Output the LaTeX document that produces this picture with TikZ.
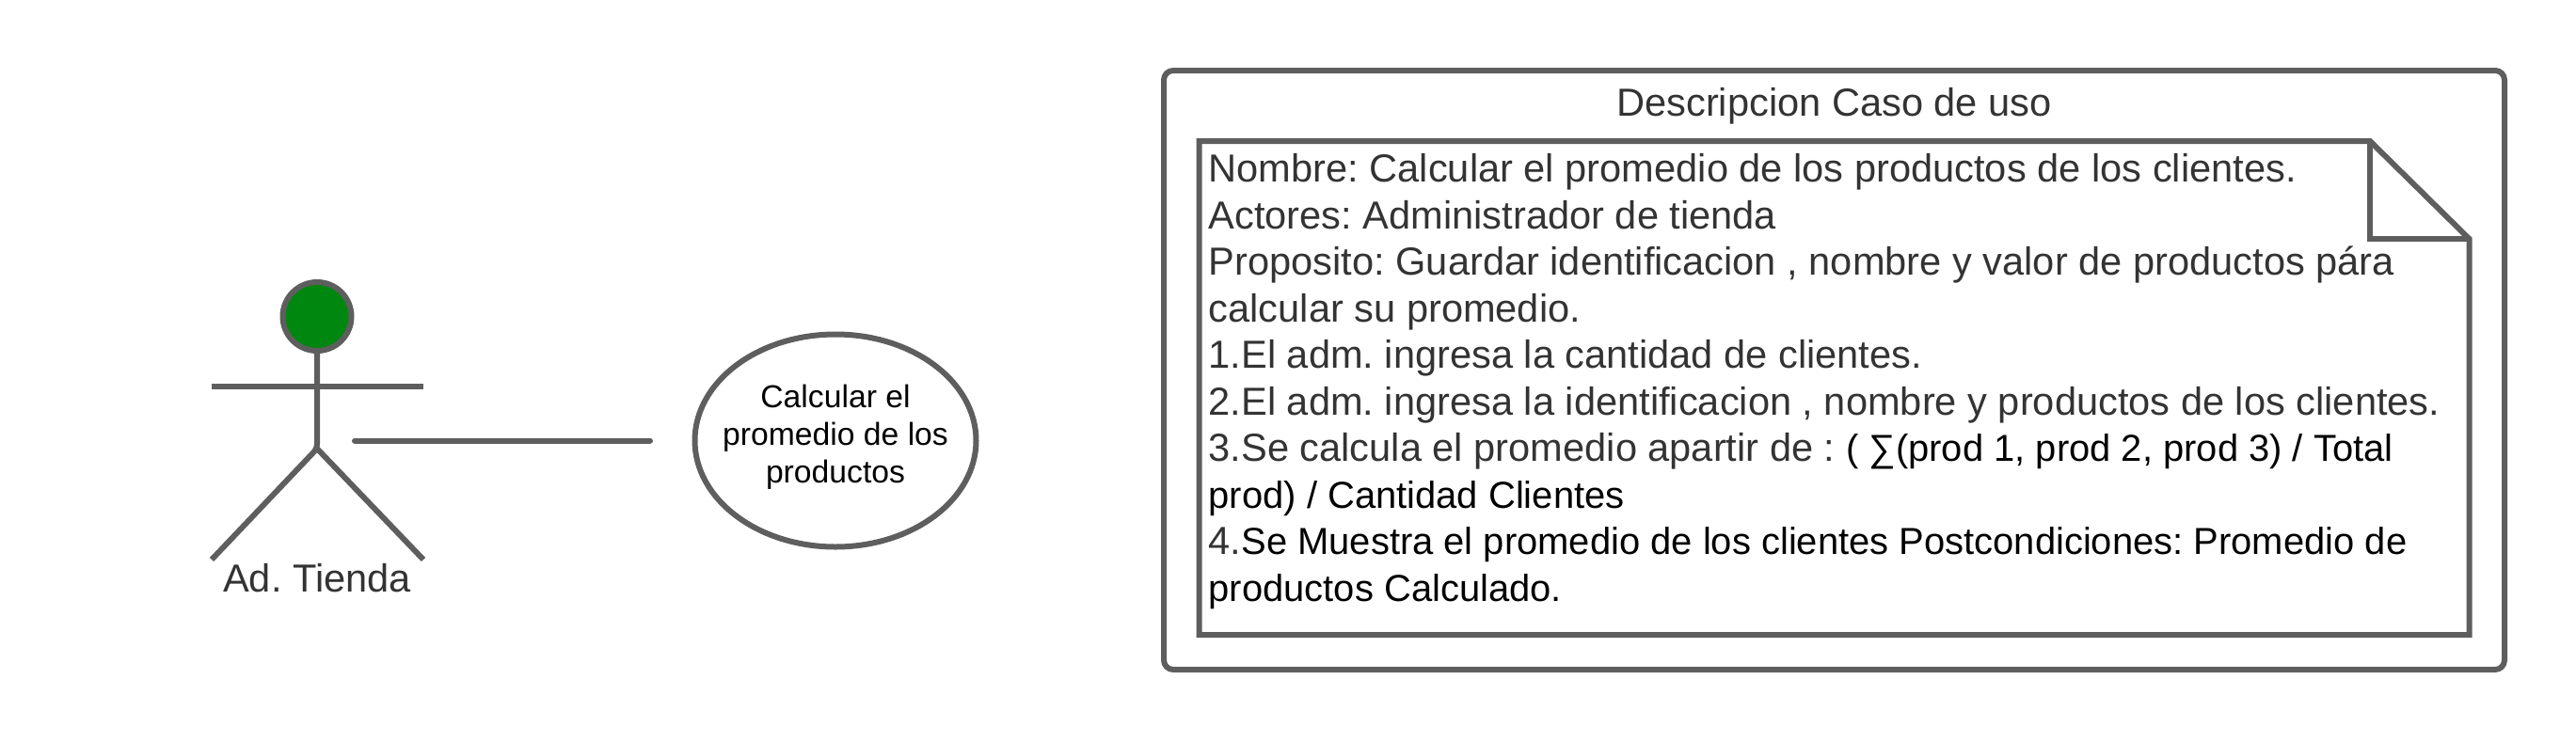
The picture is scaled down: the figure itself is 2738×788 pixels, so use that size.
\documentclass[tikz,border=0pt]{standalone}
\usepackage{fontspec}
\usetikzlibrary{shapes.geometric}
\setmainfont{Liberation Sans}
\frenchspacing
\definecolor{strokegray}{HTML}{5E5E5E}
\definecolor{textdark}{HTML}{333333}
\definecolor{headgreen}{HTML}{00870F}
\newcommand{\blacktext}[1]{{\color{black}\fontsize{39.95}{49.5}\selectfont #1}}
\tikzset{
  px/.style={x=1pt,y=-1pt},
  shape line/.style={draw=strokegray,line width=6pt},
  body text/.style={inner sep=0pt,font=\fontsize{41.6}{49.5}\selectfont,text=textdark},
  use text/.style={inner sep=0pt,font=\fontsize{33.7}{40}\selectfont,text=black,align=center},
}
\begin{document}
\begin{tikzpicture}[px]
\useasboundingbox (0,0) rectangle (2738,788);
% use case description
\draw[shape line,rounded corners=10pt] (1237,75) rectangle (2662,712);
\node[body text,anchor=base] (title) at (1949.5,123) {Descripcion Caso de uso};
\draw[shape line,line join=miter] (1274.5,150) -- (2519,150) -- (2624.5,254) -- (2624.5,675) -- (1274.5,675) -- cycle;
\draw[shape line,line join=miter] (2519,150) -- (2519,254) -- (2624.5,254);
\node[body text,anchor=north west,align=left] (desc) at (1284.5,163.3) {%
Nombre: Calcular el promedio de los productos de los clientes.\\
Actores: Administrador de tienda\\
Proposito: Guardar identificacion , nombre y valor de productos pára\\
calcular su promedio.\\
1.El adm. ingresa la cantidad de clientes.\\
2.El adm. ingresa la identificacion , nombre y productos de los clientes.\\
3.Se calcula el promedio apartir de : \blacktext{( ∑(prod 1, prod 2, prod 3) / Total}\\
\blacktext{prod) / Cantidad Clientes}\\
4.\blacktext{Se Muestra el promedio de los clientes Postcondiciones: Promedio de}\\
\blacktext{productos Calculado.}};
% actor
\node[circle,shape line,fill=headgreen,minimum size=73pt,inner sep=0pt] (head) at (337,336.5) {};
\coordinate (hip) at (337,477);
\coordinate (armL) at (225,411);
\coordinate (armR) at (450,411);
\coordinate (legL) at (225,595);
\coordinate (legR) at (450,595);
\draw[shape line,rounded corners=5pt] (head.south) -- (hip) -- (legL);
\draw[shape line] (hip) -- (legR);
\draw[shape line] (armL) -- (armR);
\node[body text,anchor=base] (actor) at (337,629) {Ad. Tienda};
% use case
\node[ellipse,shape line,minimum width=299pt,minimum height=226pt,inner sep=0pt] (usecase) at (888,468.5) {};
\node[use text,anchor=center] (uselabel) at (888,464.5) {Calcular el\\promedio de los\\productos};
% association
\coordinate (assocA) at (377,468.5);
\coordinate (assocB) at (691,468.5);
\draw[shape line,line cap=round] (assocA) -- (assocB);
\end{tikzpicture}
\end{document}
